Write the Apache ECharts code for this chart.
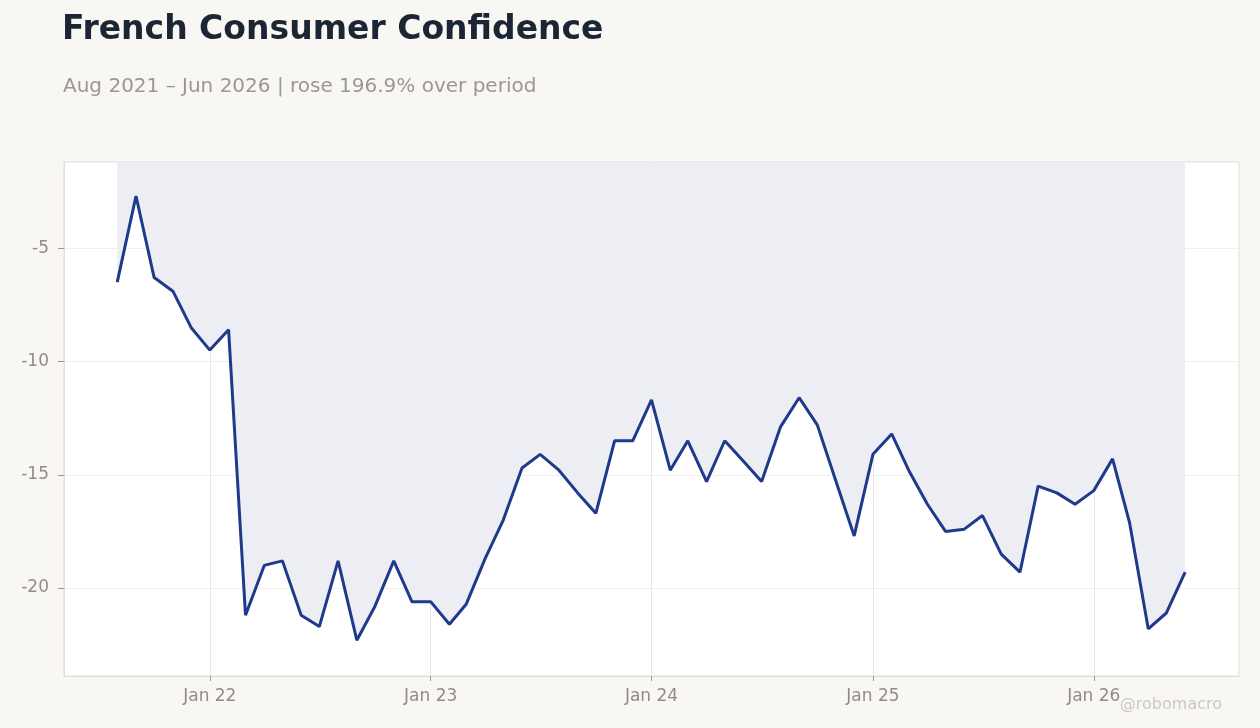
<!DOCTYPE html>
<html>
<head>
<meta charset="utf-8">
<script src="https://cdn.jsdelivr.net/npm/echarts@6/dist/echarts.min.js"></script>
<style>
html,body{margin:0;padding:0;background:#f8f7f4;}
#chart{width:1260px;height:728px;}
</style>
</head>
<body>
<div id="chart"></div>
<script>
var months = [
  '2021-08','2021-09','2021-10','2021-11','2021-12',
  '2022-01','2022-02','2022-03','2022-04','2022-05','2022-06','2022-07','2022-08','2022-09','2022-10','2022-11','2022-12',
  '2023-01','2023-02','2023-03','2023-04','2023-05','2023-06','2023-07','2023-08','2023-09','2023-10','2023-11','2023-12',
  '2024-01','2024-02','2024-03','2024-04','2024-05','2024-06','2024-07','2024-08','2024-09','2024-10','2024-11','2024-12',
  '2025-01','2025-02','2025-03','2025-04','2025-05','2025-06','2025-07','2025-08','2025-09','2025-10','2025-11','2025-12',
  '2026-01','2026-02','2026-03','2026-04','2026-05','2026-06'
];
var confidence = [
  -6.5, -2.7, -6.3, -6.9, -8.5,
  -9.5, -8.6, -21.2, -19.0, -18.8, -21.2, -21.7, -18.8, -22.3, -20.8, -18.8, -20.6,
  -20.6, -21.6, -20.7, -18.7, -17.0, -14.7, -14.1, -14.8, -15.8, -16.7, -13.5, -13.5,
  -11.7, -14.8, -13.5, -15.3, -13.5, -14.4, -15.3, -12.9, -11.6, -12.8, -15.3, -17.7,
  -14.1, -13.2, -14.8, -16.3, -17.5, -17.4, -16.8, -18.5, -19.3, -15.5, -15.8, -16.3,
  -15.7, -14.3, -17.1, -21.8, -21.1, -19.3
];
var yTicks = [-20, -15, -10, -5];
var xTickDates = ['2022-01-01','2023-01-01','2024-01-01','2025-01-01','2026-01-01'];
var monthNames = ['Jan','Feb','Mar','Apr','May','Jun','Jul','Aug','Sep','Oct','Nov','Dec'];

function ts(s){ var p = s.split('-'); return Date.UTC(+p[0], +p[1]-1, p[2] ? +p[2] : 1); }

var seriesData = months.map(function(m, i){ return [ts(m), confidence[i]]; });
var xTicks = xTickDates.map(ts);

var chart = echarts.init(document.getElementById('chart'));
chart.setOption({
  backgroundColor: '#f8f7f4',
  animation: false,
  title: [
    { text: 'French Consumer Confidence', left: 62, top: 14, padding: 0,
      textStyle: { fontFamily: 'DejaVu Sans', fontSize: 33, fontWeight: 'bold', color: '#1c2533' } },
    { text: 'Aug 2021 \u2013 Jun 2026 | rose 196.9% over period', left: 63, top: 77, padding: 0,
      textStyle: { fontFamily: 'DejaVu Sans', fontSize: 20, fontWeight: 'normal', color: '#9b9792' } }
  ],
  graphic: [
    { type: 'text', right: 38, top: 697,
      style: { text: '@robomacro', fontFamily: 'DejaVu Sans', fontSize: 16, fill: '#ccc8c2' } }
  ],
  grid: { left: 64, right: 21, top: 162, bottom: 52, show: true,
    backgroundColor: '#ffffff', borderColor: '#e2ddd5', borderWidth: 1, containLabel: false },
  xAxis: {
    type: 'value',
    min: ts('2021-05-05'), max: ts('2026-08-29'),
    axisLine: { show: true, lineStyle: { color: '#e2ddd5' } },
    axisTick: { show: true, length: 5, customValues: xTicks, lineStyle: { color: '#9b9792' } },
    axisLabel: { customValues: xTicks, margin: 12, fontFamily: 'DejaVu Sans', fontSize: 17, color: '#918c86',
      formatter: function(v){ var d = new Date(v); return monthNames[d.getUTCMonth()] + ' ' + String(d.getUTCFullYear()).slice(2); } },
    splitLine: { show: true, lineStyle: { color: '#e8e8e8', width: 1 } }
  },
  yAxis: {
    type: 'value',
    min: -23.88, max: -1.2,
    axisLine: { show: true, lineStyle: { color: '#e2ddd5' } },
    axisTick: { show: true, length: 6, customValues: yTicks, lineStyle: { color: '#9b9792' } },
    axisLabel: { customValues: yTicks, margin: 15, fontFamily: 'DejaVu Sans', fontSize: 17, color: '#918c86' },
    splitLine: { show: true, lineStyle: { color: '#efefef', width: 1 } }
  },
  series: [{
    type: 'line',
    data: seriesData,
    showSymbol: false,
    lineStyle: { color: '#1f3a8a', width: 3 },
    areaStyle: { origin: 'end', color: '#edeef4', opacity: 1 },
    z: 3
  }]
});
</script>
</body>
</html>
